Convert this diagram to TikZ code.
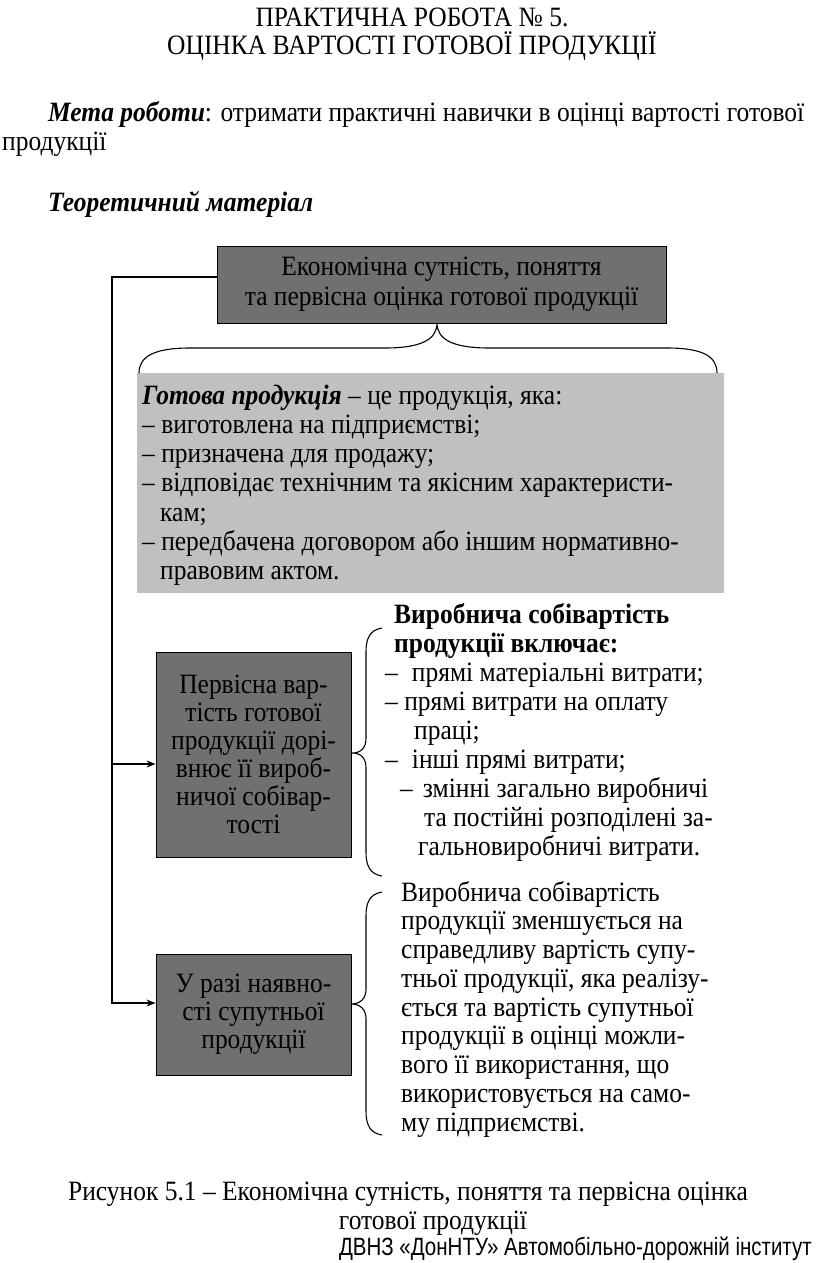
\documentclass[tikz,border=0pt]{standalone}
\usepackage{fontspec}
\setmainfont[FakeStretch=0.91]{Liberation Serif}
\newfontfamily\footfont[FakeStretch=0.82]{Liberation Sans}
\usetikzlibrary{arrows.meta}
\definecolor{boxdark}{HTML}{707070}
\definecolor{boxlight}{HTML}{C0C0C0}
\newcommand\bodyfont{\fontsize{28}{29}\selectfont}
\newcommand\boxfontA{\fontsize{28}{30}\selectfont}
\newcommand\boxfontB{\fontsize{28}{28}\selectfont}
\newcommand\bi[1]{\textbf{\textit{#1}}}
\begin{document}
\begin{tikzpicture}[x=1pt,y=-1pt,
  ln/.style={anchor=base west, inner sep=0pt, font=\bodyfont},
  lc/.style={anchor=base, inner sep=0pt, font=\bodyfont},
  darkbox/.style={draw=black, line width=0.8pt, fill=boxdark, inner sep=0pt, align=center},
  lightbox/.style={fill=boxlight, inner sep=0pt},
  conn/.style={line width=1.3pt},
  arr/.style={conn, -{Stealth[length=9pt,width=7pt]}},
  bracepath/.style={line width=1.1pt}]
\fill[white] (0,0) rectangle (816,1263);
\useasboundingbox (0,0) rectangle (816,1263);

% heading
\node[lc] (h1) at (412,27) {ПРАКТИЧНА РОБОТА № 5.};
\node[lc] (h2) at (412,55) {ОЦІНКА ВАРТОСТІ ГОТОВОЇ ПРОДУКЦІЇ};
\node[ln] (m1) at (48,121) {\bi{Мета роботи}: отримати практичні навички в оцінці вартості готової};
\node[ln] (m2) at (2,150) {продукції};
\node[ln] (tm) at (48,211) {\bi{Теоретичний матеріал}};

% boxes
\node[darkbox, minimum width=449, minimum height=77, font=\boxfontA] (top) at (441.5,284.5)
  {Економічна сутність, поняття\\та первісна оцінка готової продукції};
\node[lightbox, minimum width=587, minimum height=220] (gb) at (430.5,483) {};
\node[darkbox, minimum width=195, minimum height=205, font=\boxfontB] (b2) at (253.5,754.5)
  {Первісна вар-\\тість готової\\продукції дорі-\\внює її вироб-\\ничої собівар-\\тості};
\node[darkbox, minimum width=195, minimum height=121, font=\boxfontB] (b3) at (253.5,1014.5)
  {У разі наявно-\\сті супутньої\\продукції};

% text in light box
\node[ln] (g1) at (142,404) {\bi{Готова продукція} – це продукція, яка:};
\node[ln] (g2) at (142,433.3) {– виготовлена на підприємстві;};
\node[ln] (g3) at (142,462.6) {– призначена для продажу;};
\node[ln] (g4) at (142,491.9) {– відповідає технічним та якісним характеристи-};
\node[ln] (g5) at (160,521.2) {кам;};
\node[ln] (g6) at (142,550.5) {– передбачена договором або іншим нормативно-};
\node[ln] (g7) at (160,579.8) {правовим актом.};

% text right of b2
\node[ln] (r1) at (394,623) {\textbf{Виробнича собівартість}};
\node[ln] (r2) at (394,652) {\textbf{продукції включає:}};
\node[ln] (r3) at (385,681) {–\hspace{14pt}прямі матеріальні витрати;};
\node[ln] (r4) at (385,710) {– прямі витрати на оплату};
\node[ln] (r5) at (414,739) {праці;};
\node[ln] (r6) at (385,768) {–\hspace{14pt}інші прямі витрати;};
\node[ln] (r7) at (400,797) {–\hspace{10pt}змінні загально виробничі};
\node[ln] (r8) at (424,826) {та постійні розподілені за-};
\node[ln] (r9) at (418,855) {гальновиробничі витрати.};

% text right of b3
\node[ln] (s1) at (401,901) {Виробнича собівартість};
\node[ln] (s2) at (401,929.75) {продукції зменшується на};
\node[ln] (s3) at (401,958.5) {справедливу вартість супу-};
\node[ln] (s4) at (401,987.25) {тньої продукції, яка реалізу-};
\node[ln] (s5) at (401,1016) {ється та вартість супутньої};
\node[ln] (s6) at (401,1044.75) {продукції в оцінці можли-};
\node[ln] (s7) at (401,1073.5) {вого її використання, що};
\node[ln] (s8) at (401,1102.25) {використовується на само-};
\node[ln] (s9) at (401,1131) {му підприємстві.};

% braces
\draw[bracepath] (139,373) .. controls (139,356) and (155,348) .. (190,348) -- (385,348)
  .. controls (420,348) and (437,340) .. (437,323)
  .. controls (437,340) and (454,348) .. (489,348) -- (667,348)
  .. controls (702,348) and (717,356) .. (717,373);
\draw[bracepath] (382,628) .. controls (370,630) and (366,638) .. (366,652) -- (366,738)
  .. controls (366,748) and (361,753) .. (352,753)
  .. controls (361,753) and (366,758) .. (366,768) -- (366,852)
  .. controls (366,866) and (370,874) .. (382,876);
\draw[bracepath] (382,892) .. controls (370,894) and (366,902) .. (366,916) -- (366,989)
  .. controls (366,999) and (360,1004) .. (351,1004)
  .. controls (360,1004) and (366,1009) .. (366,1019) -- (366,1111)
  .. controls (366,1125) and (370,1133) .. (382,1135);

% connectors
\coordinate (L) at (112,0);
\coordinate (e2) at ([yshift=-9.5pt]b2.west);
\coordinate (e3) at ([yshift=11.5pt]b3.west);
\draw[arr] ([yshift=7.5pt]top.west) -| (L |- e3) -- (e3);
\draw[arr] (L |- e2) -- (e2);

% caption
\node[lc] (c1) at (408,1200) {Рисунок 5.1 – Економічна сутність, поняття та первісна оцінка};
\node[lc] (c2) at (433,1229) {готової продукції};
\node[anchor=base east, inner sep=0pt, font=\footfont\fontsize{25}{28}\selectfont] (ft) at (812,1255)
  {ДВНЗ «ДонНТУ» Автомобільно-дорожній інститут};
\end{tikzpicture}
\end{document}
